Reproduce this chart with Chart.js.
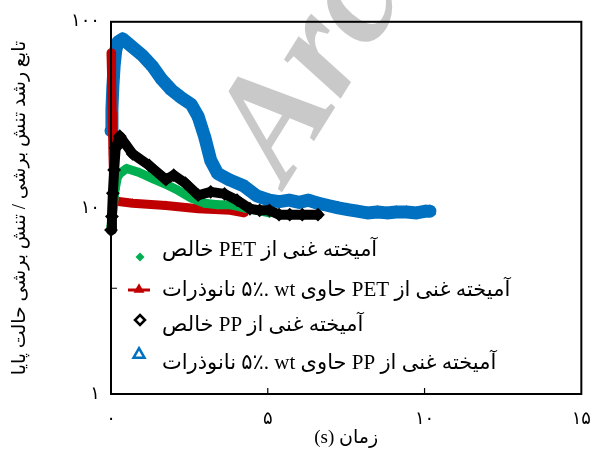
<!DOCTYPE html>
<html>
<head>
<meta charset="utf-8">
<script src="https://cdn.jsdelivr.net/npm/chart.js@4/dist/chart.umd.min.js"></script>
<style>
  html, body { margin: 0; padding: 0; background: #fff; }
  #wrap { width: 606px; height: 451px; position: relative; }
</style>
</head>
<body>
<div id="wrap"><canvas id="c"></canvas></div>
<script>
// Series names (legend order)
const seriesLabels = [
  'آمیخته غنی از PET خالص',
  'آمیخته غنی از PET حاوی wt\u200F .۵٪ نانوذرات',
  'آمیخته غنی از PP خالص',
  'آمیخته غنی از PP حاوی wt\u200F .۵٪ نانوذرات'
];

// PET-rich blend, neat
const petX = [0.0, 0.04, 0.08, 0.13, 0.2, 0.28, 0.5, 0.9, 1.31, 1.75, 2.15, 2.56, 2.99, 3.4, 3.8, 4.24, 4.65, 5.05];
const petY = [8.0, 9.0, 10.5, 12.5, 14.5, 15.3, 16.3, 15.5, 14.4, 13.4, 12.4, 11.3, 10.6, 10.4, 10.4, 10.0, 9.7, 9.4];

// PET-rich blend with 5 wt.% nanoparticles
const petNanoX = [0.0, 0.02, 0.04, 0.06, 0.09, 0.12, 0.69, 1.75, 2.78, 3.8, 4.24];
const petNanoY = [68, 50, 32, 20, 13, 10.9, 10.6, 10.3, 9.9, 9.7, 9.4];

// PP-rich blend, neat
const ppX = [0.0, 0.03, 0.06, 0.1, 0.15, 0.28, 0.69, 1.22, 1.75, 2.0, 2.37, 2.78, 3.18, 3.62, 4.02, 4.43, 4.74, 5.05, 5.36, 5.7, 6.1, 6.6];
const ppY = [7.6, 9, 12, 16, 21, 24.3, 19.5, 16.9, 14.2, 15.0, 13.6, 11.7, 12.2, 11.9, 11.0, 9.9, 9.7, 9.7, 9.2, 9.2, 9.2, 9.2];

// PP-rich blend with 5 wt.% nanoparticles
const ppNanoX = [0.0, 0.03, 0.06, 0.1, 0.15, 0.22, 0.37, 0.69, 1.0, 1.31, 1.62, 1.93, 2.25, 2.56, 2.78, 2.99, 3.18, 3.40, 3.80, 4.24, 4.65, 5.05, 5.37, 5.68, 6.0, 6.30, 6.6, 6.92, 7.25, 7.55, 7.85, 8.17, 8.5, 8.79, 9.1, 9.42, 9.75, 10.04, 10.17];
const ppNanoY = [26, 34, 45, 58, 70, 78, 81, 73, 66, 58, 49, 43, 39, 36, 31, 24, 18, 15.3, 14.1, 13.1, 11.6, 11.0, 10.8, 11.0, 10.7, 11.0, 10.6, 10.3, 10.0, 9.8, 9.6, 9.4, 9.5, 9.4, 9.5, 9.5, 9.4, 9.6, 9.6];

// Axis ticks
const xTickValues = [0, 5, 10, 15];
const xTickLabels = ['۰', '۵', '۱۰', '۱۵'];
const yTickValues = [1, 10, 100];
const yTickLabels = ['۱', '۱۰', '۱۰۰'];
const xInnerTicks = [5, 10];
const yInnerTicks = [3.7];

const xTitle = '(s) زمان';
const yTitle = 'تابع رشد تنش برشی / تنش برشی حالت پایا';
const watermarkText = 'Archive';

const GREEN = '#00B050', RED = '#C00000', BLACK = '#000000', BLUE = '#0070C0';
const TEXT_FONT = "'Liberation Serif', 'DejaVu Sans', serif";
const DIGIT_FONT = "'DejaVu Sans', sans-serif";

const pts = (xs, ys) => xs.map((x, i) => ({ x: x, y: ys[i] }));

function band(label, data, color, width, style, radius, order, hollow) {
  return {
    label: label, data: data,
    borderColor: color, backgroundColor: color,
    borderWidth: width, borderJoinStyle: 'round', borderCapStyle: 'round',
    pointStyle: style, pointRadius: radius,
    pointBackgroundColor: hollow ? 'rgba(0,0,0,0)' : color,
    pointBorderColor: color, pointBorderWidth: hollow ? 2 : 0,
    showLine: true, tension: 0, clip: false, order: order
  };
}

function diamond(ctx, x, y, r) {
  ctx.beginPath();
  ctx.moveTo(x, y - r); ctx.lineTo(x + r, y); ctx.lineTo(x, y + r); ctx.lineTo(x - r, y);
  ctx.closePath();
}
function triangle(ctx, x, y, w) {
  const h = w * 0.87;
  ctx.beginPath();
  ctx.moveTo(x, y - h / 2); ctx.lineTo(x + w / 2, y + h / 2); ctx.lineTo(x - w / 2, y + h / 2);
  ctx.closePath();
}

const decorations = {
  id: 'decorations',
  afterDatasetsDraw(chart) {
    const ctx = chart.ctx;
    const a = chart.chartArea;
    const xs = chart.scales.x, ys = chart.scales.y;

    // faint diagonal watermark
    ctx.save();
    ctx.translate(286, 186);
    ctx.rotate(-58 * Math.PI / 180);
    ctx.font = "bold italic 150px 'Liberation Serif', serif";
    ctx.fillStyle = 'rgba(0,0,0,0.21)';
    ctx.textBaseline = 'alphabetic';
    ctx.textAlign = 'left';
    ctx.fillText(watermarkText, 0, 0);
    ctx.restore();

    // plot frame
    ctx.save();
    ctx.strokeStyle = '#000';
    ctx.lineWidth = 2;
    ctx.strokeRect(a.left, a.top, a.right - a.left, a.bottom - a.top);
    // inward tick marks
    ctx.lineWidth = 1.2;
    ctx.beginPath();
    xInnerTicks.forEach(v => { const px = xs.getPixelForValue(v); ctx.moveTo(px, a.bottom); ctx.lineTo(px, a.bottom - 6); });
    yInnerTicks.forEach(v => { const py = ys.getPixelForValue(v); ctx.moveTo(a.left, py); ctx.lineTo(a.left + 6, py); });
    ctx.stroke();
    ctx.restore();

    // legend
    ctx.save();
    ctx.font = "21px " + TEXT_FONT;
    ctx.fillStyle = '#000';
    ctx.direction = 'rtl';
    ctx.textAlign = 'left';
    ctx.textBaseline = 'middle';
    const textX = 162;
    const rows = [
      { ty: 250, my: 257 },
      { ty: 290, my: 289 },
      { ty: 325, my: 320 },
      { ty: 363, my: 353 }
    ];
    rows.forEach((r, i) => ctx.fillText(seriesLabels[i], textX, r.ty));
    // markers
    ctx.fillStyle = GREEN; diamond(ctx, 140, rows[0].my, 4.5); ctx.fill();
    ctx.strokeStyle = RED; ctx.lineWidth = 3;
    ctx.beginPath(); ctx.moveTo(128, rows[1].my + 1); ctx.lineTo(150, rows[1].my + 1); ctx.stroke();
    ctx.fillStyle = RED; triangle(ctx, 139, rows[1].my - 1, 11); ctx.fill();
    ctx.strokeStyle = BLACK; ctx.lineWidth = 2.5; diamond(ctx, 140, rows[2].my, 5); ctx.stroke();
    ctx.strokeStyle = BLUE; ctx.lineWidth = 2.5; triangle(ctx, 139, rows[3].my, 11); ctx.stroke();
    ctx.restore();
  }
};

Chart.defaults.font.family = DIGIT_FONT;
Chart.defaults.color = '#000';

new Chart(document.getElementById('c'), {
  type: 'scatter',
  data: {
    datasets: [
      band(seriesLabels[0], pts(petX, petY), GREEN, 9, 'rectRot', 5, 1, false),
      band(seriesLabels[1], pts(petNanoX, petNanoY), RED, 9, 'triangle', 5, 2, false),
      band(seriesLabels[2], pts(ppX, ppY), BLACK, 10, 'rectRot', 5.5, 0, true),
      band(seriesLabels[3], pts(ppNanoX, ppNanoY), BLUE, 13, 'triangle', 7, 3, false)
    ]
  },
  options: {
    responsive: true,
    maintainAspectRatio: false,
    animation: false,
    devicePixelRatio: 1,
    layout: { padding: { top: 16, right: 14, left: 0, bottom: 0 } },
    plugins: { legend: { display: false }, tooltip: { enabled: false } },
    scales: {
      x: {
        type: 'linear', min: 0, max: 15,
        afterBuildTicks: s => { s.ticks = xTickValues.map(v => ({ value: v })); },
        afterFit: s => { s.height = 57; },
        grid: { display: false, drawTicks: false },
        border: { display: false },
        ticks: { padding: 15, font: { size: 18 }, maxRotation: 0, callback: (v, i) => xTickLabels[i] },
        title: { display: true, text: xTitle, font: { size: 19, family: TEXT_FONT }, padding: { top: 0, bottom: 2 } }
      },
      y: {
        type: 'logarithmic', min: 1, max: 100,
        afterBuildTicks: s => { s.ticks = yTickValues.map(v => ({ value: v })); },
        afterFit: s => { s.width = 111; },
        grid: { display: false, drawTicks: false },
        border: { display: false },
        ticks: { padding: 11, font: { size: 18 }, callback: (v, i) => yTickLabels[i] },
        title: { display: true, text: yTitle, font: { size: 19, family: TEXT_FONT }, padding: { top: 9, bottom: 0 } }
      }
    }
  },
  plugins: [decorations]
});
</script>
</body>
</html>
